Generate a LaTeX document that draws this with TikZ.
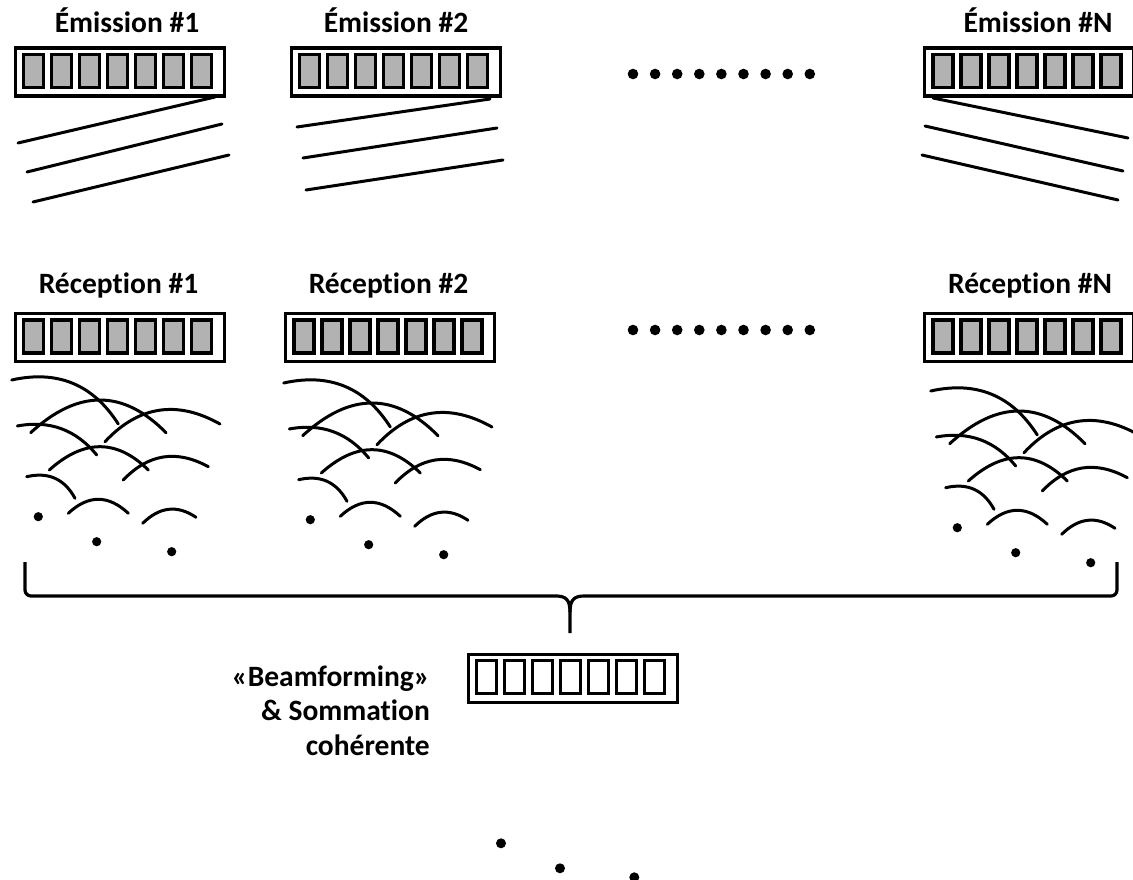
\documentclass[tikz,border=0pt]{standalone}
\usepackage{fontspec}
\setmainfont{Carlito}[Ligatures=NoCommon]

% one transducer array: outer frame plus seven elements
\newcommand\xdrarray[4]{%
  \node[frame, anchor=north west] (#1) at (#2,#3) {};
  \foreach \k in {0,...,6}
    \draw[element, fill=#4] ([shift={(10.1+28*\k,8.1)}]#1.north west) rectangle ++(20,32.8);
}
% wavefront arc: start point, middle point, end point (quadratic curve)
\newcommand\wavearc[6]{%
  \draw[wave] (#1,#2) .. controls ({(4*#3-#5)/3},{(4*#4-#6)/3})
                       and ({(4*#3-#1)/3},{(4*#4-#2)/3}) .. (#5,#6);
}
% backscattered wavefronts from three scatterers
\newcommand\echoset{%
  \wavearc{11.7}{380}{72.7}{383.3}{118.3}{424}
  \wavearc{30.7}{432.7}{100}{400}{166}{432.7}
  \wavearc{17.3}{426}{61.3}{428.7}{96.7}{455}
  \wavearc{105}{441.7}{159}{410.3}{220}{424}
  \wavearc{49.3}{470}{100}{446.7}{148.3}{470}
  \wavearc{26.7}{476.7}{55}{478.3}{75}{498.3}
  \wavearc{123.3}{480}{163.3}{457}{208.3}{466.7}
  \wavearc{68.3}{513.3}{98.3}{499.3}{128.3}{513.3}
  \wavearc{142.7}{523.3}{168.7}{509.3}{196}{517.3}
  \fill (38.3,516.7) circle[radius=4.6];
  \fill (96.7,541.7) circle[radius=4.6];
  \fill (171.7,551.7) circle[radius=4.6];
}

\begin{document}
\begin{tikzpicture}[x=1pt,y=-1pt,
  lbl/.style={font=\fontsize{29.5}{34}\selectfont\bfseries, inner sep=0pt, anchor=base},
  frame/.style={draw, line width=3.2pt, minimum width=209pt, minimum height=48pt, inner sep=0pt},
  element/.style={draw, line width=3.4pt},
  wave/.style={line width=3pt, line cap=round},
  plane/.style={line width=3pt, line cap=round},
  brc/.style={line width=3.2pt},
]
\useasboundingbox (0,0) rectangle (1133,880);

% ---- transmissions ----
\node[lbl] (t1) at (127,33) {Émission \#1};
\node[lbl] (t2) at (396,33) {Émission \#2};
\node[lbl] (tN) at (1038,33) {Émission \#N};

\xdrarray{e1}{13.5}{46.5}{black!30}
\xdrarray{e2}{289.5}{46.5}{black!30}
\xdrarray{eN}{923}{46.5}{black!30}

% plane waves
\draw[plane] (215,97) -- (18,143);
\draw[plane] (222,124) -- (27,172);
\draw[plane] (229,155) -- (33,202);

\draw[plane] (490,99) -- (297,127);
\draw[plane] (497,128) -- (303,158);
\draw[plane] (503,160) -- (306,190);

\draw[plane] (933,98) -- (1128,138);
\draw[plane] (925,126) -- (1123,171);
\draw[plane] (922,155) -- (1118,200);

\foreach \i in {0,...,8} \fill (633+22.1*\i,74) circle[radius=5.3];

% ---- receptions ----
\node[lbl] (r1) at (118.5,293) {Réception \#1};
\node[lbl] (r2) at (388.5,293) {Réception \#2};
\node[lbl] (rN) at (1030,293) {Réception \#N};

\xdrarray{a1}{13.5}{312}{black!30}
\xdrarray{a2}{284}{312}{black!30}
\xdrarray{aN}{923}{312}{black!30}

\foreach \i in {0,...,8} \fill (633+22.1*\i,330) circle[radius=5.3];

\begin{scope}\echoset\end{scope}
\begin{scope}[shift={(272,3)}]\echoset\end{scope}
\begin{scope}[shift={(919,11)}]\echoset\end{scope}

% ---- brace ----
\draw[brc, rounded corners=6pt] (25,562) -- (25,596) -- (556,596);
\draw[brc] (556,596) .. controls (566,596) and (570,600) .. (570,612) -- (570,633);
\draw[brc, rounded corners=6pt] (1117,562) -- (1117,596) -- (584,596);
\draw[brc] (584,596) .. controls (574,596) and (570,600) .. (570,612);

% ---- coherent summation ----
\xdrarray{bf}{466.5}{652.5}{white}
\node[lbl, anchor=base east] (s1) at (430,686) {«Beamforming»};
\node[lbl, anchor=base east] (s2) at (430,720) {\& Sommation};
\node[lbl, anchor=base east] (s3) at (430,755) {cohérente};

\fill (501,843.3) circle[radius=5];
\fill (560,868.3) circle[radius=5];
\fill (634.3,877.3) circle[radius=5];
\end{tikzpicture}
\end{document}
